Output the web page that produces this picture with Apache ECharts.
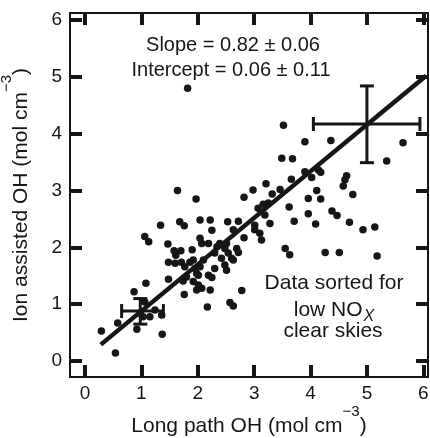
<!DOCTYPE html>
<html>
<head>
<meta charset="utf-8">
<script src="https://cdn.jsdelivr.net/npm/echarts@6/dist/echarts.min.js"></script>
<style>
  html, body { margin: 0; padding: 0; background: #fff; }
  #chart { width: 430px; height: 438px; }
</style>
</head>
<body>
<div id="chart"></div>
<script>
// Paired OH measurements (10^6 mol cm^-3): long path vs. ion assisted
const longPathOH = [
  1.82, 1.64, 1.97, 2.82, 2.98, 3.21, 3.32, 3.46, 3.16, 3.25,
  3.62, 3.96, 4.18, 3.52, 3.90, 4.36, 3.49, 3.68, 3.90, 3.66,
  5.64, 5.35, 4.14, 4.18, 4.02, 4.64, 4.61, 4.58, 4.75, 4.11,
  3.96, 4.38, 4.47, 4.09, 4.69, 4.93, 5.14, 4.26, 4.51, 5.18,
  3.71, 3.55, 3.63, 3.28, 3.07, 3.01, 3.10, 3.13, 2.82, 2.63,
  2.72, 2.53, 2.22, 2.04, 2.04, 2.07, 2.19, 2.34, 2.39, 2.69,
  2.72, 2.60, 2.48, 2.51, 2.30, 2.19, 2.25, 2.01, 2.07, 2.22,
  2.78, 2.57, 2.63, 2.17, 1.98, 1.76, 1.74, 1.98, 1.80, 1.92,
  1.48, 1.08, 0.87, 1.06, 0.98, 1.03, 1.15, 1.24, 1.36, 0.58,
  0.92, 0.29, 1.37, 0.54, 1.34, 1.68, 1.76, 1.06, 1.13, 1.47,
  1.58, 1.70, 1.90, 1.61, 1.48, 1.60, 1.71, 1.86, 1.92, 1.77,
  1.95, 2.04, 2.10, 2.30, 2.48, 2.54, 2.42, 2.63, 2.01, 2.51,
  3.19, 3.01, 2.25
];
const ionAssistedOH = [
  4.80, 3.00, 2.85, 2.88, 3.01, 3.12, 2.94, 3.02, 2.76, 2.78,
  2.71, 2.86, 2.85, 4.15, 3.86, 3.88, 3.57, 3.56, 3.33, 3.20,
  3.84, 3.52, 3.36, 3.32, 3.23, 3.26, 3.19, 3.08, 2.93, 3.00,
  2.59, 2.64, 2.56, 2.41, 2.44, 2.31, 2.36, 1.91, 1.91, 1.85,
  2.46, 1.98, 1.87, 2.42, 2.69, 2.31, 2.25, 2.13, 2.17, 2.31,
  2.46, 2.45, 2.48, 2.48, 2.16, 2.07, 2.07, 2.01, 2.07, 1.98,
  1.91, 1.81, 1.69, 1.60, 1.63, 1.51, 1.47, 1.51, 1.28, 1.25,
  1.24, 1.03, 0.97, 0.95, 1.25, 1.17, 1.41, 1.54, 1.48, 1.40,
  1.44, 1.37, 1.22, 1.04, 0.84, 0.78, 0.78, 0.90, 0.81, 0.67,
  0.56, 0.53, 0.47, 0.14, 2.39, 2.45, 2.38, 2.19, 2.10, 2.06,
  1.94, 1.94, 1.96, 1.86, 1.74, 1.72, 1.74, 1.74, 1.78, 1.66,
  1.63, 1.66, 1.78, 1.90, 1.98, 1.90, 1.81, 1.78, 1.34, 2.07,
  2.57, 2.39, 2.30
];

// Least-squares fit
const fitSlope = 0.82, fitSlopeErr = 0.06;
const fitIntercept = 0.06, fitInterceptErr = 0.11;
const fitXRange = [0.28, 6.05];

// Representative uncertainty crosses: centre and extent on each axis
const crossX = [0.98, 5.0];
const crossY = [0.88, 4.17];
const crossXLow = [0.65, 4.05];
const crossXHigh = [1.39, 5.94];
const crossYLow = [0.65, 3.49];
const crossYHigh = [1.10, 4.84];

const tickValues = [0, 1, 2, 3, 4, 5, 6];

const ink = '#161616';
const fontFamily = '"Liberation Sans", Arial, Helvetica, sans-serif';

const points = longPathOH.map((x, i) => [x, ionAssistedOH[i]]);
const fitLine = fitXRange.map(x => [x, fitIntercept + fitSlope * x]);
const crosses = crossX.map((x, i) => [x, crossY[i], crossXLow[i], crossXHigh[i], crossYLow[i], crossYHigh[i]]);

const xRange = { min: -0.266, max: 6.083 };
const yRange = { min: -0.28, max: 6.123 };

function frameAxis(extra) {
  return Object.assign({
    type: 'value',
    splitLine: { show: false },
    axisLine: { show: true, onZero: false, lineStyle: { color: ink, width: 2 } },
    axisTick: { show: true, inside: true, length: 12, customValues: tickValues,
                lineStyle: { color: ink, width: 4, cap: 'butt' } },
    axisLabel: { show: false }
  }, extra);
}

const tickLabel = (margin) => ({
  show: true, customValues: tickValues, margin: margin,
  fontSize: 19, fontFamily: fontFamily, color: ink
});

// Axis titles with a raised "−3" exponent
const nameRich = {
  t: { fontSize: 21, fontFamily: fontFamily, color: ink, lineHeight: 45 },
  s: { fontSize: 15, fontFamily: fontFamily, color: ink, lineHeight: 15, verticalAlign: 'top' }
};

const chart = echarts.init(document.getElementById('chart'), null, { renderer: 'canvas' });

chart.setOption({
  animation: false,
  backgroundColor: '#fff',
  grid: { left: 70, top: 13, width: 358, height: 364, outerBoundsMode: 'none', containLabel: false },
  xAxis: [
    frameAxis(Object.assign({
      position: 'bottom',
      axisLabel: tickLabel(7),
      name: '{t|Long path OH (mol cm}{s|\u22123}{t|)}',
      nameLocation: 'middle', nameGap: 27, nameMoveOverlap: false,
      nameTextStyle: { rich: nameRich }
    }, xRange)),
    frameAxis(Object.assign({ position: 'top' }, xRange))
  ],
  yAxis: [
    frameAxis(Object.assign({
      position: 'left',
      axisLabel: tickLabel(8),
      name: '{t|Ion assisted OH (mol cm}{s|\u22123}{t|)}',
      nameLocation: 'middle', nameGap: 26, nameMoveOverlap: false,
      nameTextStyle: { rich: nameRich }
    }, yRange)),
    frameAxis(Object.assign({ position: 'right' }, yRange))
  ],
  series: [
    {
      type: 'scatter',
      xAxisIndex: 0, yAxisIndex: 0,
      data: points,
      symbol: 'circle', symbolSize: 7.5,
      itemStyle: { color: ink, opacity: 1 },
      silent: true
    },
    {
      type: 'line',
      xAxisIndex: 0, yAxisIndex: 0,
      data: fitLine,
      symbol: 'none',
      lineStyle: { color: ink, width: 4.5, cap: 'butt' },
      silent: true, z: 3
    },
    {
      type: 'custom',
      xAxisIndex: 0, yAxisIndex: 0,
      data: crosses,
      silent: true, z: 4,
      renderItem: function (params, api) {
        const cx = api.value(0), cy = api.value(1);
        const left = api.coord([api.value(2), cy]);
        const right = api.coord([api.value(3), cy]);
        const top = api.coord([cx, api.value(5)]);
        const bottom = api.coord([cx, api.value(4)]);
        const cap = 7;
        const style = { stroke: ink, lineWidth: 3, fill: null };
        const seg = (x1, y1, x2, y2) => ({ type: 'line', shape: { x1, y1, x2, y2 }, style });
        return {
          type: 'group',
          children: [
            seg(left[0], left[1], right[0], right[1]),
            seg(top[0], top[1], bottom[0], bottom[1]),
            seg(left[0], left[1] - cap, left[0], left[1] + cap),
            seg(right[0], right[1] - cap, right[0], right[1] + cap),
            seg(top[0] - cap, top[1], top[0] + cap, top[1]),
            seg(bottom[0] - cap, bottom[1], bottom[0] + cap, bottom[1])
          ]
        };
      }
    }
  ],
  graphic: [
    {
      type: 'text', x: 233, y: 45, silent: true,
      style: {
        text: 'Slope = ' + fitSlope.toFixed(2) + ' \u00b1 ' + fitSlopeErr.toFixed(2),
        fontSize: 20, fontFamily: fontFamily, fill: ink, align: 'center', verticalAlign: 'middle'
      }
    },
    {
      type: 'text', x: 231, y: 70, silent: true,
      style: {
        text: 'Intercept = ' + fitIntercept.toFixed(2) + ' \u00b1 ' + fitInterceptErr.toFixed(2),
        fontSize: 20, fontFamily: fontFamily, fill: ink, align: 'center', verticalAlign: 'middle'
      }
    },
    {
      type: 'text', x: 334, y: 283, silent: true,
      style: {
        text: 'Data sorted for',
        fontSize: 21, fontFamily: fontFamily, fill: ink, align: 'center', verticalAlign: 'middle'
      }
    },
    {
      type: 'text', x: 334, y: 310, silent: true,
      style: {
        text: '{t|low NO}{x|X}',
        align: 'center', verticalAlign: 'middle',
        rich: {
          t: { fontSize: 21, fontFamily: fontFamily, fill: ink, lineHeight: 30 },
          x: { fontSize: 16, fontFamily: fontFamily, fontStyle: 'italic', fill: ink, lineHeight: 16, verticalAlign: 'bottom', padding: [0, 0, 0, 1] }
        }
      }
    },
    {
      type: 'text', x: 333, y: 331, silent: true,
      style: {
        text: 'clear skies',
        fontSize: 21, fontFamily: fontFamily, fill: ink, align: 'center', verticalAlign: 'middle'
      }
    }
  ]
});
</script>
</body>
</html>
